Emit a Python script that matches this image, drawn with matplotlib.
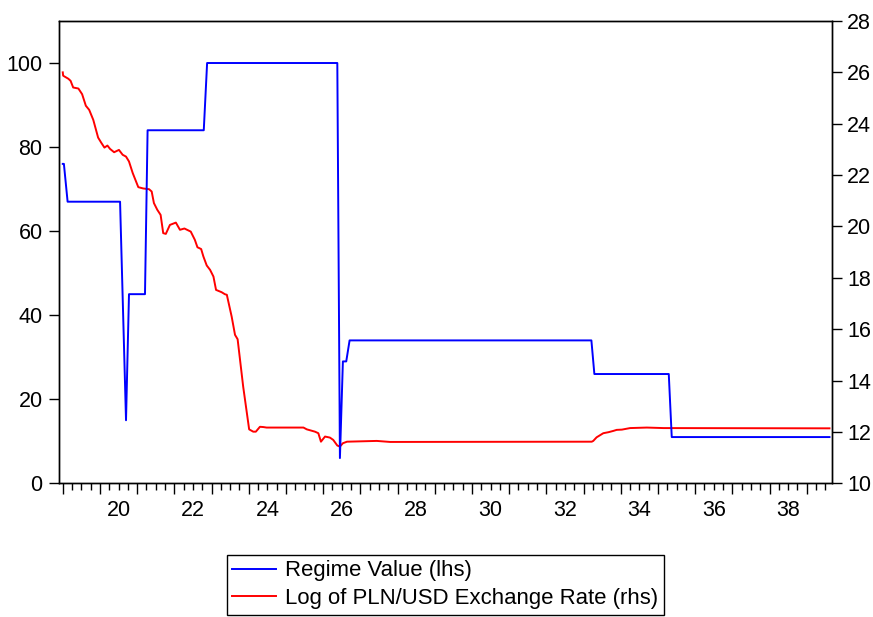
import matplotlib
matplotlib.use("Agg")
import matplotlib.pyplot as plt
from matplotlib.ticker import MultipleLocator, FuncFormatter

plt.rcParams['font.family'] = ['Liberation Sans', 'DejaVu Sans']

# Regime value (lhs) - breakpoints of the step series
regime_x = [19.00, 19.03, 19.13, 20.54, 20.70, 20.78, 21.21, 21.28, 22.79, 22.88,
            26.38, 26.45, 26.53, 26.62, 26.71, 33.21, 33.29, 35.29, 35.37, 39.61]
regime_y = [76, 76, 67, 67, 15, 45, 45, 84, 84, 100,
            100, 6, 29, 29, 34, 34, 26, 26, 11, 11]

# Log of PLN/USD exchange rate (rhs)
fx_x = [19.00, 19.01, 19.15, 19.21, 19.28, 19.42, 19.52, 19.62, 19.71, 19.82,
        19.95, 20.03, 20.12, 20.20, 20.27, 20.38, 20.51, 20.61, 20.70, 20.78,
        20.88, 21.03, 21.16, 21.32, 21.39, 21.45, 21.54, 21.63, 21.70, 21.77,
        21.88, 22.04, 22.15, 22.27, 22.44, 22.55, 22.62, 22.72, 22.78, 22.87,
        22.96, 23.05, 23.12, 23.27, 23.36, 23.41, 23.54, 23.63, 23.70, 23.85,
        24.01, 24.12, 24.19, 24.30, 24.39, 24.48, 25.47, 25.56, 25.78, 25.87,
        25.94, 26.05, 26.18, 26.27, 26.38, 26.45, 26.53, 26.64, 27.44, 27.80,
        33.22, 33.26, 33.35, 33.53, 33.67, 33.80, 33.89, 34.03, 34.25, 34.70,
        35.15, 39.61]
fx_y = [26.00, 25.87, 25.75, 25.67, 25.41, 25.37, 25.15, 24.70, 24.54, 24.15,
        23.46, 23.27, 23.07, 23.15, 23.02, 22.89, 22.98, 22.79, 22.72, 22.53,
        22.08, 21.53, 21.48, 21.45, 21.36, 20.91, 20.65, 20.45, 19.74, 19.71,
        20.06, 20.15, 19.87, 19.92, 19.80, 19.48, 19.19, 19.12, 18.83, 18.48,
        18.31, 18.05, 17.53, 17.44, 17.36, 17.34, 16.49, 15.78, 15.61, 13.76,
        12.10, 12.01, 12.01, 12.20, 12.19, 12.17, 12.17, 12.10, 12.01, 11.95,
        11.62, 11.82, 11.78, 11.69, 11.47, 11.43, 11.56, 11.62, 11.65, 11.61,
        11.62, 11.65, 11.79, 11.95, 11.99, 12.04, 12.08, 12.09, 12.15, 12.17,
        12.15, 12.14]

xlabels = ['20', '22', '24', '26', '28', '30', '32', '34', '36', '38']
left_ticks = [0, 20, 40, 60, 80, 100]
right_ticks = [10, 12, 14, 16, 18, 20, 22, 24, 26, 28]

fig = plt.figure(figsize=(8.73, 6.17), dpi=100)
ax = fig.add_axes([0.0679, 0.2167, 0.8848, 0.7493])
ax2 = ax.twinx()

l1, = ax.plot(regime_x, regime_y, color='#0000ff', lw=1.4, label='Regime Value (lhs)')
l2, = ax2.plot(fx_x, fx_y, color='#ff0000', lw=1.4, label='Log of PLN/USD Exchange Rate (rhs)')

ax.set_zorder(ax2.get_zorder() + 1)
ax.patch.set_visible(False)

ax.set_xlim(18.906, 39.67)
ax.set_ylim(0, 110)
ax2.set_ylim(10, 28)

ax.set_yticks(left_ticks)
ax2.set_yticks(right_ticks)

# x axis: major ticks at integers, minor at quarters, labels at mid-interval
ax.xaxis.set_major_locator(MultipleLocator(1))
ax.xaxis.set_major_formatter(FuncFormatter(lambda v, p: ''))
ax.xaxis.set_minor_locator(MultipleLocator(0.25))
label_pos = {int(s) + 0.5: s for s in xlabels}
def minor_fmt(v, p):
    for k, s in label_pos.items():
        if abs(v - k) < 1e-6:
            return s
    return ''
ax.xaxis.set_minor_formatter(FuncFormatter(minor_fmt))

fs = 15.5
ax.tick_params(axis='x', which='major', direction='out', length=8, width=1, labelsize=fs)
ax.tick_params(axis='x', which='minor', direction='out', length=5, width=1, labelsize=fs, pad=7)
ax.tick_params(axis='y', direction='out', length=7, width=1, labelsize=fs, pad=5)
ax2.tick_params(axis='y', direction='out', length=7, width=1, labelsize=fs, pad=4)

for a in (ax, ax2):
    for s in a.spines.values():
        s.set_linewidth(1.0)
        s.set_color('black')

leg = fig.legend(handles=[l1, l2], loc='center', bbox_to_anchor=(0.510, 0.0524),
                 fontsize=15.9, frameon=True, fancybox=False, shadow=False,
                 framealpha=1, edgecolor='black', labelspacing=0.3,
                 borderpad=0.25, handlelength=2.0, handletextpad=0.4)
leg.get_frame().set_linewidth(1.0)

fig.savefig('out.png', dpi=100)
